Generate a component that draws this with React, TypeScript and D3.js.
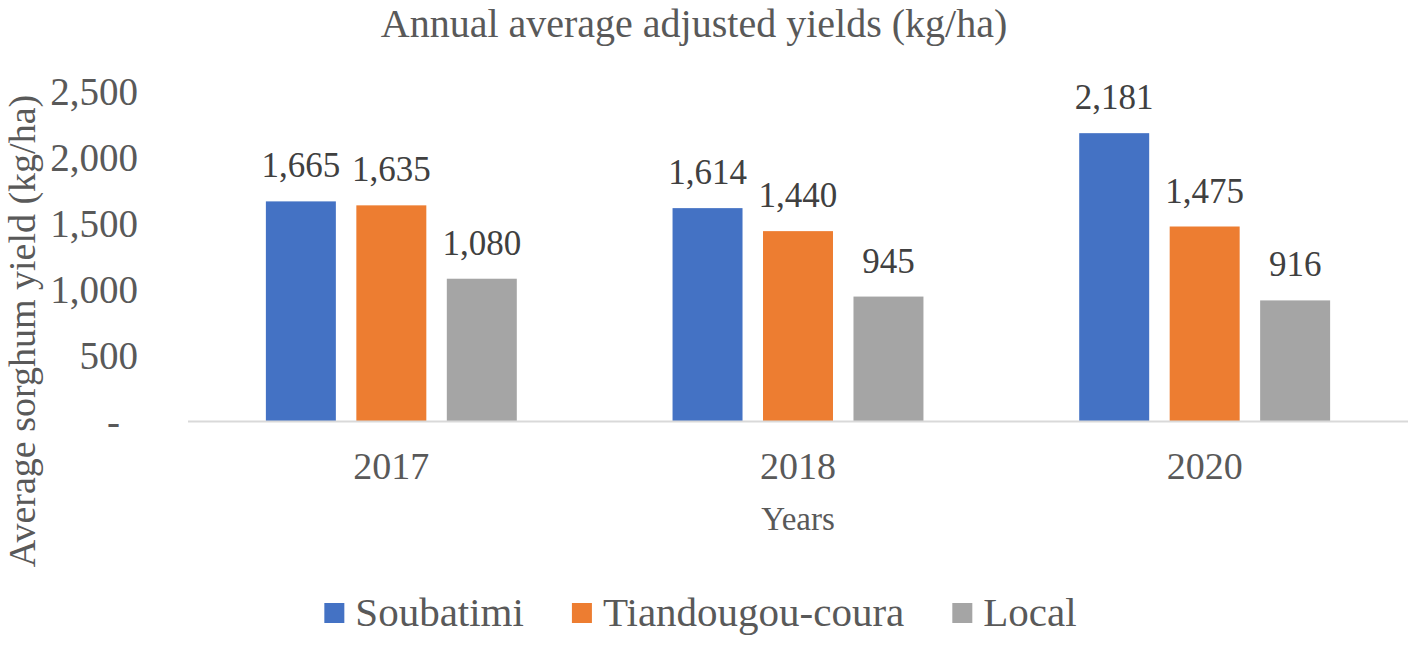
import { useEffect, useRef } from "react";
import * as d3 from "d3";

// values
const years = ["2017", "2018", "2020"];
const seriesNames = ["Soubatimi", "Tiandougou-coura", "Local"];
const soubatimi = [1665, 1614, 2181];
const tiandougou = [1635, 1440, 1475];
const local = [1080, 945, 916];
const yTicks = [0, 500, 1000, 1500, 2000, 2500];
const colors = ["#4472C4", "#ED7D31", "#A5A5A5"];

const FONT = "'Liberation Serif', 'Times New Roman', serif";
const W = 1418;
const H = 648;

export default function App() {
  const svgRef = useRef<SVGSVGElement | null>(null);

  useEffect(() => {
    if (!svgRef.current) return;
    const svg = d3.select(svgRef.current);
    svg.selectAll("*").remove();

    const values = [soubatimi, tiandougou, local];

    // plot area
    const x0 = d3
      .scaleBand<string>()
      .domain(years)
      .range([188, 1408])
      .paddingInner(0.383)
      .paddingOuter(0.1915);
    const x1 = d3
      .scaleBand<string>()
      .domain(seriesNames)
      .range([0, x0.bandwidth()])
      .paddingInner(0.2265);
    const y = d3.scaleLinear().domain([0, 2500]).range([421.5, 91]);

    // y tick labels (no axis line, no gridlines)
    const fmt = d3.format(",");
    svg
      .append("g")
      .selectAll("text")
      .data(yTicks)
      .join("text")
      .attr("x", (d) => (d === 0 ? 120 : 138))
      .attr("y", (d) => y(d))
      .attr("dy", "0.35em")
      .attr("text-anchor", "end")
      .attr("font-family", FONT)
      .attr("font-size", 39)
      .attr("fill", "#595959")
      .text((d) => (d === 0 ? "-" : fmt(d)));

    // bars
    const groups = svg
      .append("g")
      .selectAll("g")
      .data(years)
      .join("g")
      .attr("transform", (d) => `translate(${x0(d)},0)`);

    groups
      .selectAll("rect")
      .data((_, i) => seriesNames.map((s, k) => ({ s, k, v: values[k][i] })))
      .join("rect")
      .attr("x", (d) => x1(d.s) as number)
      .attr("y", (d) => y(d.v))
      .attr("width", x1.bandwidth())
      .attr("height", (d) => y(0) - y(d.v))
      .attr("fill", (d) => colors[d.k]);

    // data labels
    groups
      .selectAll("text")
      .data((_, i) => seriesNames.map((s, k) => ({ s, k, v: values[k][i] })))
      .join("text")
      .attr("x", (d) => (x1(d.s) as number) + x1.bandwidth() / 2)
      .attr("y", (d) => y(d.v) - 24)
      .attr("text-anchor", "middle")
      .attr("font-family", FONT)
      .attr("font-size", 35)
      .attr("fill", "#404040")
      .text((d) => fmt(d.v));

    // x axis line
    svg
      .append("line")
      .attr("x1", x0.range()[0])
      .attr("x2", x0.range()[1])
      .attr("y1", y(0))
      .attr("y2", y(0))
      .attr("stroke", "#D9D9D9")
      .attr("stroke-width", 2);

    // x tick labels
    svg
      .append("g")
      .selectAll("text")
      .data(years)
      .join("text")
      .attr("x", (d) => (x0(d) as number) + x0.bandwidth() / 2)
      .attr("y", 479)
      .attr("text-anchor", "middle")
      .attr("font-family", FONT)
      .attr("font-size", 38)
      .attr("fill", "#595959")
      .text((d) => d);

    // title + axis titles
    svg
      .append("text")
      .attr("x", 694)
      .attr("y", 37)
      .attr("text-anchor", "middle")
      .attr("font-family", FONT)
      .attr("font-size", 40)
      .attr("fill", "#595959")
      .text("Annual average adjusted yields (kg/ha)");

    svg
      .append("text")
      .attr("x", 798)
      .attr("y", 530)
      .attr("text-anchor", "middle")
      .attr("font-family", FONT)
      .attr("font-size", 33)
      .attr("fill", "#595959")
      .text("Years");

    svg
      .append("text")
      .attr("transform", "translate(35,331) rotate(-90)")
      .attr("text-anchor", "middle")
      .attr("font-family", FONT)
      .attr("font-size", 38)
      .attr("fill", "#595959")
      .text("Average sorghum yield (kg/ha)");

    // legend, centred under the plot
    const legend = svg.append("g");
    const box = 20;
    const gapText = 11;
    const gapItem = 48;
    let cursor = 0;
    seriesNames.forEach((name, k) => {
      const item = legend.append("g").attr("transform", `translate(${cursor},0)`);
      item
        .append("rect")
        .attr("x", 0)
        .attr("y", 603)
        .attr("width", box)
        .attr("height", box)
        .attr("fill", colors[k]);
      const t = item
        .append("text")
        .attr("x", box + gapText)
        .attr("y", 626)
        .attr("font-family", FONT)
        .attr("font-size", 41)
        .attr("fill", "#595959")
        .text(name);
      const tw = (t.node() as SVGTextElement).getComputedTextLength();
      cursor += box + gapText + tw + gapItem;
    });
    const legendW = cursor - gapItem;
    legend.attr("transform", `translate(${700.5 - legendW / 2},0)`);
  }, []);

  return (
    <svg
      ref={svgRef}
      width={W}
      height={H}
      style={{ position: "fixed", left: 0, top: 0, background: "#fff" }}
    />
  );
}
